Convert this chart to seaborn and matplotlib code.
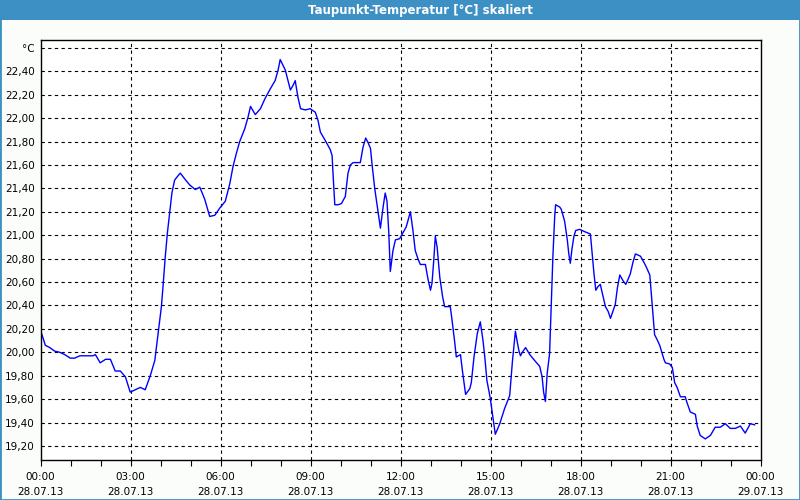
import numpy as np
import pandas as pd
import matplotlib
matplotlib.use("Agg")
import matplotlib.pyplot as plt
import matplotlib.ticker as mticker
from matplotlib.patches import Rectangle
import seaborn as sns

# ---- data (hours after 28.07.13 00:00, dew point in °C) ----
hours = [0.0, 0.16, 0.31, 0.47, 0.64, 0.81, 0.99, 1.14, 1.31, 1.53, 1.75, 1.83, 1.99, 2.17, 2.33,
         2.49, 2.66, 2.83, 2.99, 3.16, 3.33, 3.49, 3.66, 3.81, 3.92, 4.03, 4.08, 4.16, 4.23, 4.31,
         4.38, 4.47, 4.56, 4.66, 4.81, 4.97, 5.16, 5.31, 5.47, 5.64, 5.81, 5.97, 6.16, 6.31, 6.42,
         6.53, 6.64, 6.81, 6.92, 7.0, 7.16, 7.33, 7.49, 7.66, 7.82, 7.92, 7.99, 8.16, 8.25, 8.33,
         8.42, 8.49, 8.58, 8.67, 8.83, 8.99, 9.16, 9.25, 9.33, 9.49, 9.66, 9.72, 9.75, 9.81, 9.92,
         10.03, 10.16, 10.25, 10.33, 10.42, 10.66, 10.75, 10.84, 10.92, 11.0, 11.05, 11.14, 11.25,
         11.33, 11.42, 11.49, 11.55, 11.61, 11.66, 11.75, 11.83, 11.97, 12.08, 12.19, 12.33, 12.42,
         12.49, 12.58, 12.66, 12.83, 12.92, 13.0, 13.05, 13.11, 13.16, 13.22, 13.31, 13.40, 13.47,
         13.66, 13.73, 13.81, 13.86, 14.0, 14.06, 14.17, 14.31, 14.36, 14.45, 14.56, 14.66, 14.75,
         14.81, 14.88, 14.99, 15.06, 15.16, 15.31, 15.47, 15.64, 15.73, 15.83, 15.89, 15.95, 16.0,
         16.06, 16.17, 16.31, 16.47, 16.64, 16.72, 16.77, 16.83, 16.89, 16.97, 17.03, 17.08, 17.14,
         17.17, 17.31, 17.36, 17.47, 17.56, 17.61, 17.66, 17.72, 17.78, 17.84, 17.97, 18.14, 18.33,
         18.38, 18.45, 18.51, 18.58, 18.66, 18.75, 18.83, 18.92, 19.0, 19.08, 19.16, 19.23, 19.31,
         19.42, 19.51, 19.58, 19.66, 19.75, 19.83, 19.92, 20.0, 20.11, 20.19, 20.31, 20.36, 20.42,
         20.47, 20.55, 20.64, 20.72, 20.78, 20.83, 20.97, 21.06, 21.14, 21.22, 21.33, 21.49, 21.55,
         21.66, 21.83, 21.89, 21.99, 22.16, 22.33, 22.49, 22.66, 22.83, 22.99, 23.16, 23.33, 23.49,
         23.66, 23.81]
dewpoint = [20.19, 20.06, 20.04, 20.01, 20.00, 19.98, 19.95, 19.95, 19.97, 19.97, 19.97, 19.98,
            19.91, 19.94, 19.94, 19.84, 19.84, 19.79, 19.66, 19.68, 19.70, 19.68, 19.80, 19.93,
            20.16, 20.39, 20.55, 20.82, 21.02, 21.20, 21.36, 21.47, 21.50, 21.53, 21.48, 21.43,
            21.39, 21.41, 21.31, 21.16, 21.17, 21.23, 21.29, 21.44, 21.59, 21.70, 21.80, 21.91,
            22.01, 22.10, 22.03, 22.08, 22.17, 22.25, 22.32, 22.41, 22.50, 22.41, 22.32, 22.24,
            22.28, 22.32, 22.18, 22.08, 22.07, 22.08, 22.05, 21.98, 21.88, 21.81, 21.73, 21.68,
            21.53, 21.26, 21.26, 21.27, 21.33, 21.53, 21.60, 21.62, 21.62, 21.75, 21.83, 21.79,
            21.74, 21.61, 21.40, 21.20, 21.06, 21.24, 21.36, 21.29, 21.02, 20.69, 20.87, 20.96,
            20.97, 21.02, 21.07, 21.20, 21.03, 20.87, 20.80, 20.75, 20.75, 20.62, 20.53, 20.59,
            20.79, 20.99, 20.90, 20.64, 20.48, 20.39, 20.39, 20.25, 20.08, 19.96, 19.98, 19.85,
            19.64, 19.69, 19.74, 19.96, 20.16, 20.26, 20.10, 19.96, 19.76, 19.61, 19.48, 19.30,
            19.39, 19.52, 19.63, 19.92, 20.18, 20.09, 20.01, 19.97, 20.00, 20.04, 19.98, 19.93,
            19.88, 19.79, 19.66, 19.58, 19.82, 19.99, 20.45, 20.82, 21.16, 21.26, 21.24, 21.22,
            21.12, 20.96, 20.84, 20.76, 20.89, 20.99, 21.04, 21.05, 21.03, 21.01, 20.87, 20.67,
            20.53, 20.56, 20.58, 20.48, 20.39, 20.35, 20.29, 20.35, 20.41, 20.55, 20.66, 20.61,
            20.58, 20.62, 20.67, 20.77, 20.84, 20.83, 20.82, 20.77, 20.73, 20.66, 20.50, 20.31,
            20.15, 20.11, 20.06, 19.99, 19.94, 19.91, 19.90, 19.87, 19.74, 19.70, 19.62, 19.62,
            19.57, 19.49, 19.47, 19.37, 19.29, 19.26, 19.29, 19.36, 19.36, 19.39, 19.35, 19.35,
            19.37, 19.31, 19.39, 19.38]

y_ticks = [19.2, 19.4, 19.6, 19.8, 20.0, 20.2, 20.4, 20.6, 20.8, 21.0, 21.2, 21.4, 21.6,
           21.8, 22.0, 22.2, 22.4, 22.6]
y_labels = ["19,20", "19,40", "19,60", "19,80", "20,00", "20,20", "20,40", "20,60", "20,80",
            "21,00", "21,20", "21,40", "21,60", "21,80", "22,00", "22,20", "22,40", "°C"]
x_ticks = [0, 3, 6, 9, 12, 15, 18, 21, 24]
x_labels = ["00:00\n28.07.13", "03:00\n28.07.13", "06:00\n28.07.13", "09:00\n28.07.13",
            "12:00\n28.07.13", "15:00\n28.07.13", "18:00\n28.07.13", "21:00\n28.07.13",
            "00:00\n29.07.13"]
title = "Taupunkt-Temperatur [°C] skaliert"

df = pd.DataFrame({"h": hours, "t": dewpoint})

sns.set_style("white")
plt.rcParams["font.family"] = ["DejaVu Sans"]
plt.rcParams["text.color"] = "black"
plt.rcParams["xtick.color"] = "black"
plt.rcParams["ytick.color"] = "black"

BLUE = "#3d90c4"
BG = "#fbfdfb"

fig = plt.figure(figsize=(8, 5), dpi=100, facecolor=BG)
ax = fig.add_axes([40.5 / 800, 40 / 500, 720 / 800, 420 / 500])
ax.set_facecolor("white")

sns.lineplot(data=df, x="h", y="t", ax=ax, color="#0000ff", linewidth=1.0)

ax.set_xlim(0, 24)
ax.set_ylim(19.08, 22.667)
ax.set_xticks(x_ticks)
ax.set_xticklabels(x_labels, fontsize=7.5, linespacing=1.6, color="black")
ax.xaxis.set_minor_locator(mticker.MultipleLocator(1))
ax.set_yticks(y_ticks)
ax.set_yticklabels(y_labels, fontsize=7.5, color="black")
ax.set_xlabel("")
ax.set_ylabel("")

ax.tick_params(axis="x", which="both", direction="out", length=4, width=0.8,
               color="black", labelcolor="black", pad=5, bottom=True)
ax.tick_params(axis="y", which="both", length=0, pad=4, left=False, labelcolor="black")

dash = (0, (3, 3))
for v in y_ticks:
    ax.axhline(v, color="black", linewidth=0.8, linestyle=dash, zorder=0)
for h in x_ticks[1:-1]:
    ax.axvline(h, color="black", linewidth=0.8, linestyle=dash, zorder=0)

for s in ax.spines.values():
    s.set_visible(True)
    s.set_color("black")
    s.set_linewidth(1.0)

# title bar
fig.patches.append(Rectangle((0, 1 - 20 / 500), 1, 20 / 500, transform=fig.transFigure,
                             facecolor=BLUE, edgecolor="none", zorder=0))
fig.patches.append(Rectangle((0, 0), 1, 1, transform=fig.transFigure,
                             facecolor="none", edgecolor=BLUE, linewidth=2, zorder=5))
fig.text(420 / 800, 1 - 10.5 / 500, title, color="white", fontsize=8.5, fontweight="bold",
         ha="center", va="center")

fig.savefig("out.png", dpi=100, facecolor=BG)
